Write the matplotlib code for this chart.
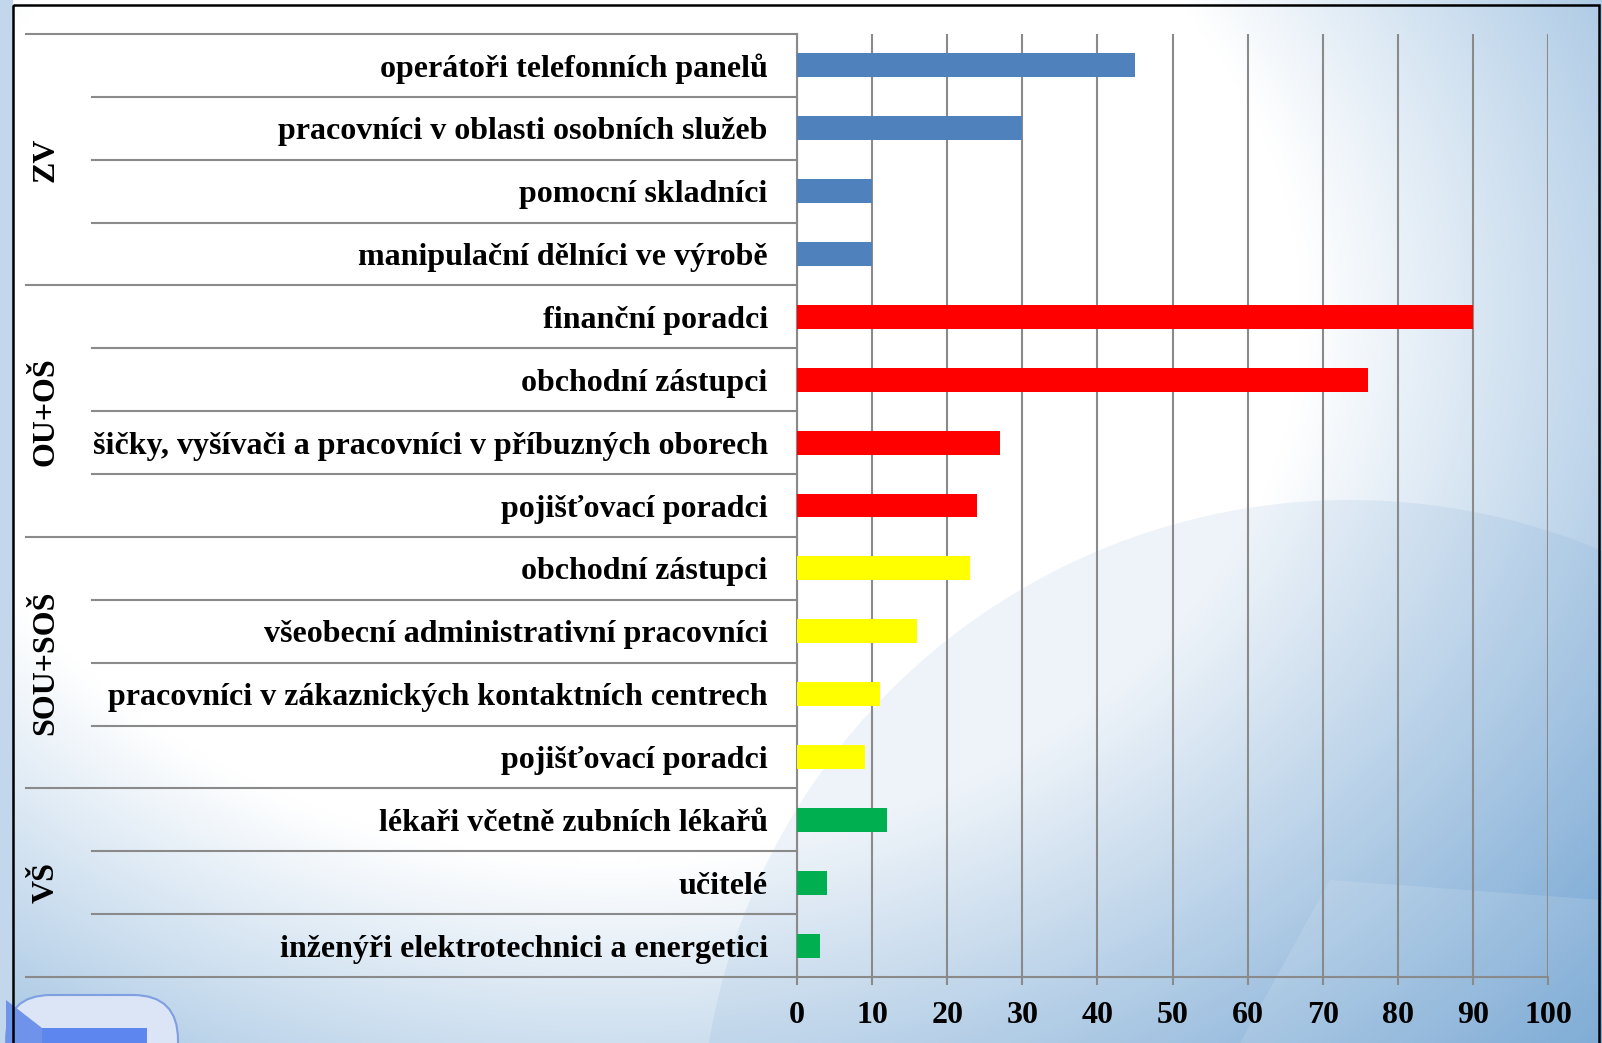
"""
Occupations chart by education level (horizontal bars, grouped rows).
Writes out.png at 1602x1043.
"""

import numpy as np
import matplotlib
matplotlib.use("Agg")
import matplotlib.pyplot as plt
from matplotlib.patches import Circle, Rectangle, FancyBboxPatch, Polygon
from matplotlib.transforms import blended_transform_factory

# ── Data ──────────────────────────────────────────────────────────────────────
GROUPS        = ["ZV", "OU+OŠ", "SOU+SOŠ", "VŠ"]
GROUP_SIZES   = [4, 4, 4, 3]
GROUP_COLOURS = ["#4F81BD", "#FF0000", "#FFFF00", "#00B050"]

OCCUPATIONS = [
    "operátoři telefonních panelů",
    "pracovníci v oblasti osobních služeb",
    "pomocní skladníci",
    "manipulační dělníci ve výrobě",
    "finanční poradci",
    "obchodní zástupci",
    "šičky, vyšívači a pracovníci v příbuzných oborech",
    "pojišťovací poradci",
    "obchodní zástupci",
    "všeobecní administrativní pracovníci",
    "pracovníci v zákaznických kontaktních centrech",
    "pojišťovací poradci",
    "lékaři včetně zubních lékařů",
    "učitelé",
    "inženýři elektrotechnici a energetici",
]
VALUES  = [45, 30, 10, 10, 90, 76, 27, 24, 23, 16, 11, 9, 12, 4, 3]
X_TICKS = list(range(0, 101, 10))

# ── Style ─────────────────────────────────────────────────────────────────────
W, H   = 1602, 1043
DPI    = 100
GREY   = "#8a8a8a"
FSIZE  = 23

plt.rcParams["font.family"] = ["Liberation Serif", "DejaVu Serif"]
plt.rcParams["font.weight"] = "bold"

fig = plt.figure(figsize=(W / DPI, H / DPI), dpi=DPI)

# ── Background (slide picture) ────────────────────────────────────────────────
bg = fig.add_axes([0, 0, 1, 1])
bg.set_xlim(0, W)
bg.set_ylim(H, 0)
bg.axis("off")

yy, xx = np.mgrid[0:H:4, 0:W:4]
u, v = xx / W, yy / H
d = np.sqrt(((u - 0.38) / 0.62) ** 2 + ((v - 0.30) / 0.75) ** 2)
t = np.clip((d - 0.7) / 0.7, 0, 1)[..., None]
white = np.array([1.0, 1.0, 1.0])
blue  = np.array([0x6a, 0x9f, 0xd0]) / 255
bg.imshow(white * (1 - t) + blue * t, extent=(0, W, H, 0),
          interpolation="bilinear", aspect="auto")

# soft swooshes
bg.add_patch(Circle((1350, 1150), 650, color="#5a90c8", alpha=0.10, lw=0))
bg.add_patch(Polygon([(1240, 1043), (1330, 880), (1602, 900), (1602, 1043)],
                     closed=True, color="white", alpha=0.12, lw=0))
bg.add_patch(Rectangle((0, 0), 13, H, color="#c2d6ec", lw=0))

# logo corner, bottom left
bg.add_patch(FancyBboxPatch((6, 995), 172, 110, boxstyle="round,pad=0,rounding_size=45",
                            facecolor="#dbe5f5", edgecolor="#7f9fe2", lw=1.5))
bg.add_patch(Rectangle((42, 1028), 105, 30, color="#5d87ee", lw=0))
bg.add_patch(Polygon([(6, 1000), (42, 1028), (42, 1043), (6, 1043)],
                     closed=True, color="#6f92ea", lw=0))

# slide frame
bg.add_patch(Rectangle((13, 5), 1586, 1100, fill=False, ec="black", lw=1.8))

# ── Chart ─────────────────────────────────────────────────────────────────────
ax = fig.add_axes([797 / W, 1 - 977 / H, 751 / W, 943 / H])
ax.patch.set_alpha(0)

colours = np.repeat(GROUP_COLOURS, GROUP_SIZES)
rows = np.arange(len(OCCUPATIONS))
ax.barh(rows, VALUES, height=0.38, color=colours, zorder=3)

ax.set_xlim(0, 100)
ax.set_ylim(len(OCCUPATIONS) - 0.5, -0.5)
ax.set_xticks(X_TICKS)
ax.xaxis.grid(True, color=GREY, lw=1.5)
ax.set_axisbelow(True)

for side in ["top", "right"]:
    ax.spines[side].set_visible(False)
for side in ["left", "bottom"]:
    ax.spines[side].set_color(GREY)
    ax.spines[side].set_linewidth(1.5)

ax.tick_params(axis="x", length=6, width=1.5, color=GREY, pad=11, labelsize=FSIZE)
ax.set_yticks(rows)
ax.set_yticklabels(OCCUPATIONS, fontsize=FSIZE)
ax.tick_params(axis="y", length=0, pad=21)

# row separators: longer lines between groups, shorter inside groups
trans = blended_transform_factory(ax.transAxes, ax.transData)
bounds = np.cumsum([0] + GROUP_SIZES)
for k in range(len(OCCUPATIONS) + 1):
    x0 = -1.0266 if k in bounds else -0.9387
    ax.plot([x0, 0], [k - 0.5, k - 0.5], transform=trans,
            color=GREY, lw=1.5, clip_on=False)

# group names, rotated
for name, start, size in zip(GROUPS, bounds[:-1], GROUP_SIZES):
    centre = start + size / 2 - 0.5
    ax.text(-1.0, centre, name, transform=trans, rotation=90,
            ha="center", va="center", fontsize=FSIZE)

fig.savefig("out.png", dpi=DPI)
